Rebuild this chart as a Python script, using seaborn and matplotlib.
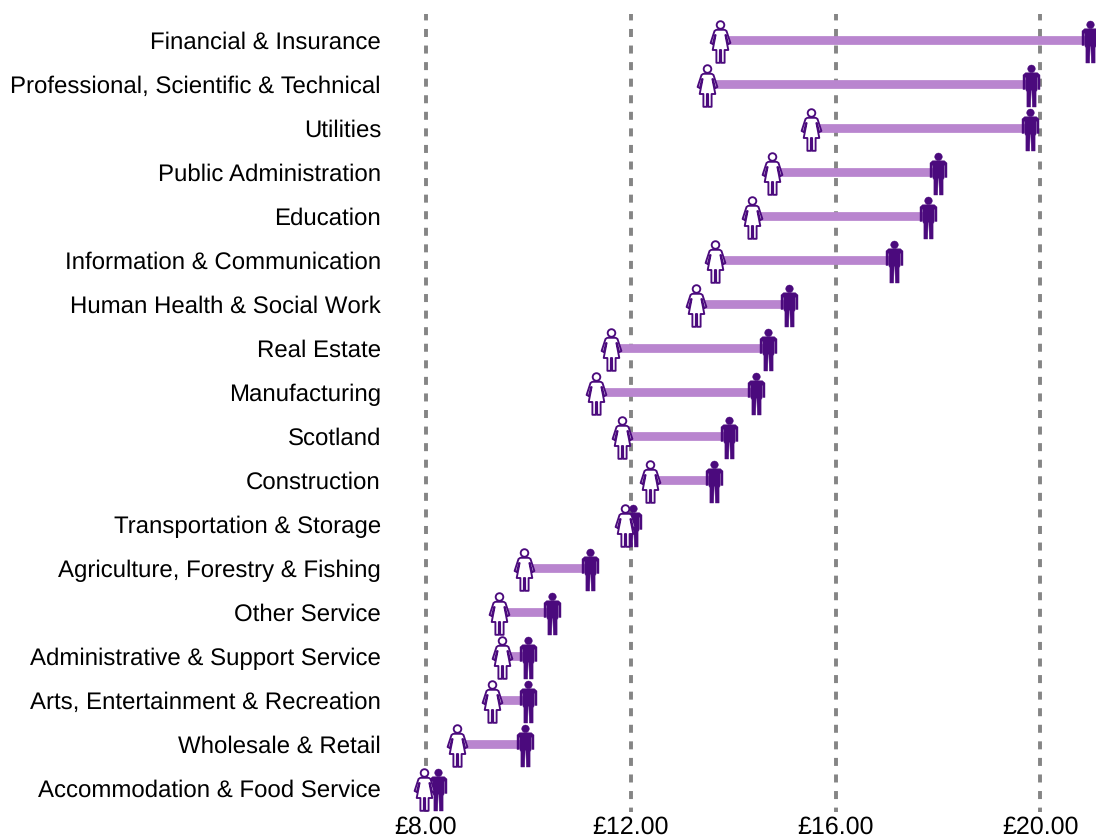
# Hourly pay by industry, women vs men (dumbbell with person icons)
import matplotlib
matplotlib.use("Agg")
import matplotlib.pyplot as plt
from matplotlib.path import Path
import pandas as pd
import seaborn as sns

# ============================================
# DATA
# ============================================

industries = [
    "Financial & Insurance", "Professional, Scientific & Technical", "Utilities",
    "Public Administration", "Education", "Information & Communication",
    "Human Health & Social Work", "Real Estate", "Manufacturing", "Scotland",
    "Construction", "Transportation & Storage", "Agriculture, Forestry & Fishing",
    "Other Service", "Administrative & Support Service",
    "Arts, Entertainment & Recreation", "Wholesale & Retail",
    "Accommodation & Food Service",
]
female_pay = [13.74, 13.49, 15.52, 14.76, 14.37, 13.64, 13.27, 11.61, 11.32,
              11.83, 12.38, 11.89, 9.91, 9.43, 9.48, 9.29, 8.60, 7.96]
male_pay = [20.97, 19.82, 19.80, 18.00, 17.80, 17.14, 15.09, 14.68, 14.45,
            13.92, 13.63, 12.04, 11.20, 10.46, 10.00, 10.00, 9.93, 8.23]
x_ticks = [8, 12, 16, 20]
x_labels = ["£8.00", "£12.00", "£16.00", "£20.00"]

df = pd.DataFrame({"industry": industries, "female": female_pay, "male": male_pay})

# ============================================
# ICONS
# ============================================

def head(cy, r):
    circle = Path.unit_circle()
    return Path(circle.vertices * r + [0, cy], circle.codes)

male_half = [(0, 11.7), (6, 11.7), (8.5, 9.5), (8.5, -5), (6.3, -5), (6.3, 7),
             (5.5, 7), (5.5, -6), (4.6, -7), (4.6, -22.5), (0.9, -22.5), (0.4, -6)]
male_body = male_half + [(-x, y) for x, y in reversed(male_half[1:])] + [male_half[0]]
male_icon = Path.make_compound_path(head(15.7, 3.8), Path(male_body, closed=True))

female_half = [(0, 10.7), (4.2, 10.7), (6, 9.5), (9.9, -2.5), (7.7, -3.5), (5.2, 5.5), (4.9, 5.5),
               (7.8, -9.5), (4.1, -9.5), (4.1, -22.3), (0.7, -22.3), (0.6, -9.5)]
female_body = female_half + [(-x, y) for x, y in reversed(female_half[1:])] + [female_half[0]]
female_icon = Path.make_compound_path(head(15.5, 3.8), Path(female_body, closed=True),
                                      Path([(0, -22.5), (0, -22.5)]))

# ============================================
# PLOT
# ============================================

sns.set_style("white")
plt.rcParams["font.family"] = ["Liberation Sans", "DejaVu Sans"]
plt.rcParams["text.hinting"] = "no_hinting"
plt.rcParams["text.hinting_factor"] = 1

DARK = "#4B0A7D"
BAR = "#B985CF"

fig = plt.figure(figsize=(10.96, 8.38), dpi=100)
ax = fig.add_axes([390 / 1096, 1 - 812 / 838, 706 / 1096, 798 / 838])

for tick in x_ticks:
    ax.axvline(tick, color="#858585", lw=2.8, ls=(0.93, (2.06, 2.2)), zorder=1)

ax.hlines(df["industry"], df["female"], df["male"], color=BAR, lw=6.3, zorder=2)

sns.scatterplot(data=df, x="male", y="industry", marker=male_icon, s=1050,
                color=DARK, edgecolor=DARK, linewidth=0.3, zorder=3, clip_on=False, ax=ax)
sns.scatterplot(data=df, x="female", y="industry", marker=female_icon, s=1050,
                facecolor="white", edgecolor=DARK, linewidth=1.35, zorder=4, clip_on=False, ax=ax)

ax.set_xlim(8 - 36 / 51.2, 8 + 670 / 51.2)
ax.set_ylim(17.539, -0.598)
ax.set_xticks(x_ticks, x_labels)
ax.set_xlabel("")
ax.set_ylabel("")
ax.tick_params(axis="both", length=0, labelcolor="black")
ax.tick_params(axis="y", labelsize=17.3, pad=6.5)
ax.tick_params(axis="x", labelsize=17.8, pad=2.5)
sns.despine(ax=ax, left=True, bottom=True)

plt.savefig("out.png", dpi=100)
